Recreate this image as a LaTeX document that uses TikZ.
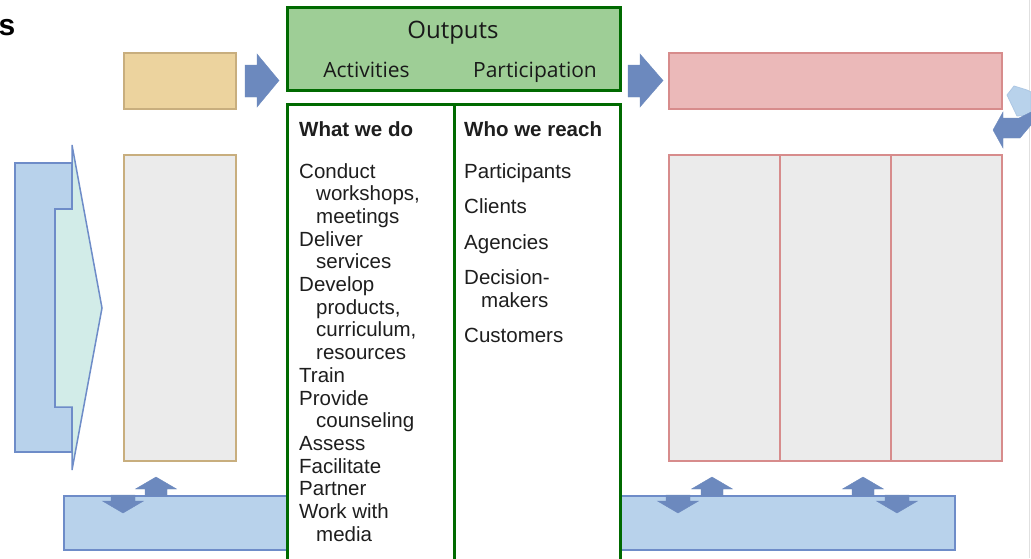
\documentclass[tikz,border=0pt]{standalone}
\usepackage{fontspec}
\setmainfont{Liberation Sans}
\newfontfamily\headfont{Open Sans}
\definecolor{tanfill}{HTML}{ECD39E}
\definecolor{tanline}{HTML}{C8AE7E}
\definecolor{grayfill}{HTML}{EBEBEB}
\definecolor{pinkfill}{HTML}{EBB9B9}
\definecolor{pinkline}{HTML}{D78C8C}
\definecolor{lgreen}{HTML}{9ECE96}
\definecolor{dgreen}{HTML}{006A00}
\definecolor{arrowblue}{HTML}{6C89BE}
\definecolor{barblue}{HTML}{B8D2EB}
\definecolor{barline}{HTML}{6E8CC8}
\definecolor{cyanfill}{HTML}{D2ECE8}
\definecolor{txt}{HTML}{1E1E1E}
\tikzset{
  boxat/.style={anchor=north west, inner sep=0, outer sep=0},
  tanbox/.style={boxat, draw=tanline, line width=2pt},
  pinkbox/.style={boxat, draw=pinkline, line width=2pt},
  greenbox/.style={boxat, draw=dgreen, line width=3pt},
  barbox/.style={boxat, draw=barline, fill=barblue, line width=1.5pt},
  blockarrow/.style={fill=arrowblue, draw=arrowblue, line width=0.4pt, line join=miter},
  body/.style={font=\fontsize{20.5}{22.7}\selectfont, text=txt, inner sep=0, anchor=base west},
  bodyhead/.style={body, font=\fontsize{20.5}{22.7}\selectfont\bfseries},
  head/.style={font=\headfont\fontsize{21}{24}\selectfont, text=black!90, inner sep=0, anchor=base},
}
\begin{document}
\begin{tikzpicture}[x=1pt,y=-1pt]
\clip (0,0) rectangle (1031,558);
\fill[white] (0,0) rectangle (1031,558);
\draw[color=black!12, line width=1pt] (1029.5,0) -- (1029.5,558);

% cut-off title
\node[font=\fontsize{30}{30}\selectfont\bfseries, anchor=base east, inner sep=0] (title) at (15.5,35) {s};

% left big arrow
\draw[fill=barblue, draw=barline, line width=1.5pt, line join=miter]
  (15,163) -- (72,163) -- (72,209) -- (55,209) -- (55,407) -- (72,407) -- (72,452) -- (15,452) -- cycle;
\draw[fill=cyanfill, draw=barline, line width=1.5pt, line join=miter]
  (55,209) -- (72,209) -- (72,145) -- (102,308) -- (72,470) -- (72,407) -- (55,407) -- cycle;

% bottom bars (under the green box)
\node[barbox, minimum width=240pt, minimum height=54pt] (barL) at (64,496) {};
\node[barbox, minimum width=345pt, minimum height=54pt] (barR) at (610,496) {};

% left boxes
\node[tanbox, fill=tanfill, minimum width=112pt, minimum height=56pt] (inTop) at (124,53) {};
\node[tanbox, fill=grayfill, minimum width=112pt, minimum height=306pt] (inBody) at (124,155) {};

% right boxes
\node[pinkbox, fill=pinkfill, minimum width=333pt, minimum height=56pt] (outTop) at (669,53) {};
\node[pinkbox, fill=grayfill, minimum width=333pt, minimum height=306pt] (outBody) at (669,155) {};
\draw[pinkline, line width=2pt] (780,155) -- (780,461);
\draw[pinkline, line width=2pt] (891,155) -- (891,461);

% green outputs header and body
\node[greenbox, fill=lgreen, minimum width=333pt, minimum height=83pt] (outHead) at (287,7) {};
\node[greenbox, fill=white, minimum width=333pt, minimum height=500pt] (outCols) at (287,104) {};
\draw[dgreen, line width=3pt] (454,104) -- (454,604);

% right-pointing block arrows
\draw[blockarrow] (245,65) -- (257,65) -- (257,54) -- (279,80.5) -- (257,107) -- (257,97) -- (245,97) -- cycle;
\draw[blockarrow] (628,65) -- (640,65) -- (640,54) -- (663,80.5) -- (640,107) -- (640,97) -- (628,97) -- cycle;

% cycle arrows at right edge
\draw[fill=barblue, draw=barblue!85!arrowblue, line width=0.8pt, line join=miter]
  (1007,95) -- (1014,86) -- (1027,90) -- (1031,92) -- (1031,115) -- (1017,116) -- cycle;
\draw[blockarrow]
  (993,130) -- (1003,112) -- (1003,118) -- (1019,118) -- (1031,112) -- (1031,125) -- (1020,138) -- (1003,138) -- (1003,148) -- cycle;

% up / down block arrows on bars
\foreach \c in {156,712,863}{
  \draw[blockarrow] (\c-20.5,489) -- (\c,477) -- (\c+20.5,489) -- (\c+11,489) -- (\c+11,496) -- (\c-11,496) -- (\c-11,489) -- cycle;
}
\foreach \c in {123,678,897}{
  \draw[blockarrow] (\c-12,495) -- (\c+12,495) -- (\c+12,501) -- (\c+20.5,501) -- (\c,513) -- (\c-20.5,501) -- (\c-12,501) -- cycle;
}

% header texts
\node[head, font=\headfont\fontsize{24}{26}\selectfont] (hOut) at (453,38) {Outputs};
\node[head] (hAct) at (366.5,77) {Activities};
\node[head] (hPar) at (535,77) {Participation};

% left column
\node[bodyhead] (wwd) at (299,136) {What we do};
\node[body] (a1) at (299,178) {Conduct};
\node[body] (a2) at (316,200.7) {workshops,};
\node[body] (a3) at (316,223.4) {meetings};
\node[body] (a4) at (299,246.1) {Deliver};
\node[body] (a5) at (316,268.8) {services};
\node[body] (a6) at (299,291.5) {Develop};
\node[body] (a7) at (316,314.2) {products,};
\node[body] (a8) at (316,336.9) {curriculum,};
\node[body] (a9) at (316,359.6) {resources};
\node[body] (a10) at (299,382.3) {Train};
\node[body] (a11) at (299,405) {Provide};
\node[body] (a12) at (316,427.7) {counseling};
\node[body] (a13) at (299,450.4) {Assess};
\node[body] (a14) at (299,473.1) {Facilitate};
\node[body] (a15) at (299,495.8) {Partner};
\node[body] (a16) at (299,518.5) {Work with};
\node[body] (a17) at (316,541.2) {media};

% right column
\node[bodyhead] (wwr) at (464,136) {Who we reach};
\node[body] (b1) at (464,178) {Participants};
\node[body] (b2) at (464,213.5) {Clients};
\node[body] (b3) at (464,249) {Agencies};
\node[body] (b4) at (464,284.5) {Decision-};
\node[body] (b5) at (481,307.2) {makers};
\node[body] (b6) at (464,342.5) {Customers};
\end{tikzpicture}
\end{document}
